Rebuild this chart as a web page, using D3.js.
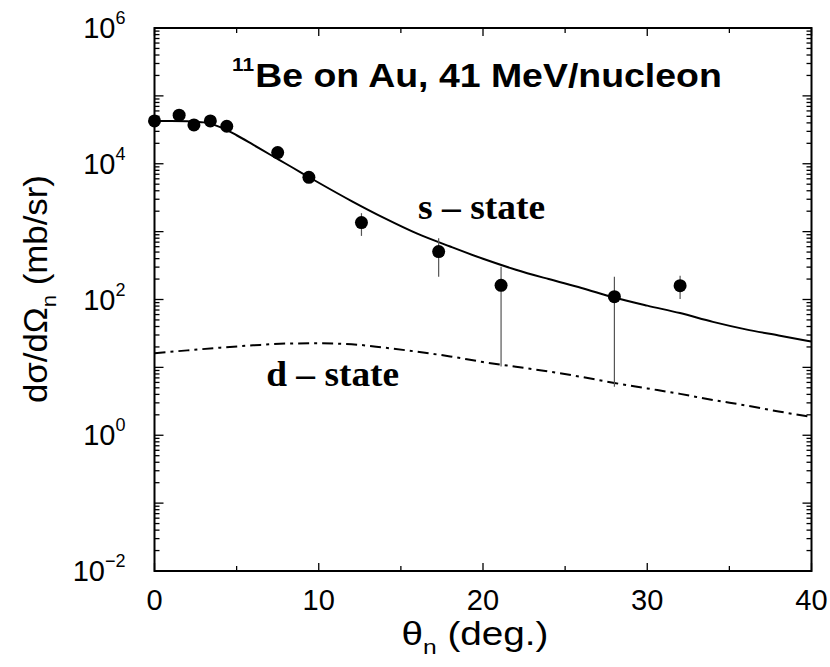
<!DOCTYPE html>
<html><head><meta charset="utf-8">
<script src="https://cdn.jsdelivr.net/npm/d3@7/dist/d3.min.js"></script>
<style>body{margin:0;background:#fff}svg{display:block}</style>
</head><body>
<svg id="c" width="830" height="667"></svg>
<script>
// Measured data points
const angle = [0, 1.5, 2.4, 3.4, 4.4, 7.5, 9.4, 12.6, 17.3, 21.1, 28.0, 32.0];
const sigma = [42700, 52000, 37300, 42700, 35700, 14600, 6300, 1360, 508, 162, 110, 160];
const errHigh = [42700, 52000, 37300, 42700, 35700, 14600, 6300, 1870, 800, 305, 217, 223];
const errLow  = [42700, 52000, 37300, 42700, 35700, 14600, 6300, 865, 217, 10.3, 5.2, 102];
// s-state curve (solid)
const sAngle = [0,1,2,3,4,5,6,7,8,9,10,12,14,16,18,20,22,24,26,28,30,32,34,36,38,40];
const sValue = [42700,42700,42200,40700,34700,26300,19100,13800,10000,7240,5250,2820,1580,933,603,398,275,200,148,107,81.3,63.1,46.8,36.3,29.5,24.0];
// d-state curve (dash-dot)
const dAngle = [0,2,4,6,8,10,12,14,16,18,20,22,24,26,28,30,32,34,36,38,40];
const dValue = [16.2,17.8,19.5,21.1,22.4,22.6,21.9,19.5,17.0,14.5,12.0,10.2,8.71,7.24,5.89,4.90,4.07,3.31,2.75,2.24,1.86];
// Axis ticks
const xMajor = [0,10,20,30,40];
const xMinor = [5,15,25,35];
const yDecades = [-2,-1,0,1,2,3,4,5,6];
const yLabelExp = [-2,0,2,4,6];

const svg = d3.select("#c");
const L = 154.5, R = 811.5, T = 28, B = 571;
const x = d3.scaleLinear().domain([0,40]).range([L,R]);
const y = d3.scaleLog().domain([1e-2,1e6]).range([B,T]);

const sans = "Liberation Sans, Arial, sans-serif";
const serif = "Liberation Serif, Times New Roman, serif";

function fit(sel, cx, by, width, anchor) {
  const w = sel.node().getBBox().width;
  const sx = width / w;
  sel.attr("transform", `translate(${cx},${by}) scale(${sx},1)`).attr("text-anchor", anchor);
}

// ticks
const minorY = [];
yDecades.forEach(d => { if (d < 6) for (let k=2;k<=9;k++) minorY.push(k*Math.pow(10,d)); });
const majorY = yDecades.map(d => Math.pow(10,d));

const g = svg.append("g");
const tick = (x1,y1,x2,y2) => g.append("line").attr("x1",x1).attr("y1",y1).attr("x2",x2).attr("y2",y2)
  .attr("stroke","#000").attr("stroke-width",1.3);
majorY.forEach(v => { tick(L, y(v), L+9, y(v)); tick(R, y(v), R-9, y(v)); });
minorY.forEach(v => { tick(L, y(v), L+5, y(v)); tick(R, y(v), R-5, y(v)); });
xMajor.forEach(v => { tick(x(v), B, x(v), B-8); tick(x(v), T, x(v), T+8); });
xMinor.forEach(v => { tick(x(v), B, x(v), B-5); tick(x(v), T, x(v), T+5); });

// frame
svg.append("rect").attr("x",L).attr("y",T).attr("width",R-L).attr("height",B-T)
  .attr("fill","none").attr("stroke","#000").attr("stroke-width",2);

// tick labels
xMajor.forEach(v => svg.append("text").attr("x",x(v)).attr("y",B+39).attr("text-anchor","middle")
  .attr("font-family",sans).attr("font-size",29).text(v));
yLabelExp.forEach(e => {
  const t = svg.append("text").attr("x",L-29).attr("y",y(Math.pow(10,e))+10).attr("text-anchor","end")
    .attr("font-family",sans).attr("font-size",29);
  t.append("tspan").text("10");
  const sup = e < 0 ? "\u22122" : String(e);
  t.append("tspan").attr("dy",-14).attr("font-size",18).text(sup);
});

// curves
const line = d3.line().x(d=>x(d[0])).y(d=>y(d[1])).curve(d3.curveMonotoneX);
svg.append("path").attr("d", line(sAngle.map((a,i)=>[a,sValue[i]])))
  .attr("fill","none").attr("stroke","#000").attr("stroke-width",2);
svg.append("path").attr("d", line(dAngle.map((a,i)=>[a,dValue[i]])))
  .attr("fill","none").attr("stroke","#000").attr("stroke-width",2)
  .attr("stroke-dasharray","11,5,3,5");

// error bars
angle.forEach((a,i) => {
  if (errHigh[i] !== errLow[i]) {
    svg.append("line").attr("x1",x(a)).attr("x2",x(a)).attr("y1",y(errHigh[i])).attr("y2",y(errLow[i]))
      .attr("stroke","#555").attr("stroke-width",1.2);
  }
});
// points
svg.selectAll("circle.pt").data(angle).join("circle").attr("class","pt")
  .attr("cx",(d)=>x(d)).attr("cy",(d,i)=>y(sigma[i])).attr("r",6.5).attr("fill","#000");

// title
const title = svg.append("text").attr("font-family",sans).attr("font-weight","bold");
title.append("tspan").attr("font-size",19).attr("dy",-16).text("11");
title.append("tspan").attr("font-size",34).attr("dy",16).attr("dx",1).text("Be on Au, 41 MeV/nucleon");
fit(title, 232, 87, 490, "start");

// state labels
const sl = svg.append("text").attr("font-family",serif)
  .attr("font-weight","bold").attr("font-size",35).text("s \u2013 state");
fit(sl, x(16.05), y(Math.pow(10,3.18)), 127, "start");
const dl = svg.append("text").attr("font-family",serif)
  .attr("font-weight","bold").attr("font-size",35).text("d \u2013 state");
fit(dl, x(6.8), y(Math.pow(10,0.72)), 133, "start");

// axis titles
const xt = svg.append("text").attr("font-family",sans).attr("font-size",33);
xt.append("tspan").text("\u03b8");
xt.append("tspan").attr("font-size",21).attr("dy",9).text("n");
xt.append("tspan").attr("dy",-9).text(" (deg.)");
fit(xt, 401.5, 645, 147, "start");

const ytg = svg.append("g").attr("transform","translate(47,403) rotate(-90)");
const yt = ytg.append("text").attr("font-family",sans).attr("font-size",33);
yt.append("tspan").text("d\u03c3/d\u03a9");
yt.append("tspan").attr("font-size",21).attr("dy",9).text("n");
yt.append("tspan").attr("dy",-9).text(" (mb/sr)");
fit(yt, 0, 0, 228, "start");
</script>
</body></html>
